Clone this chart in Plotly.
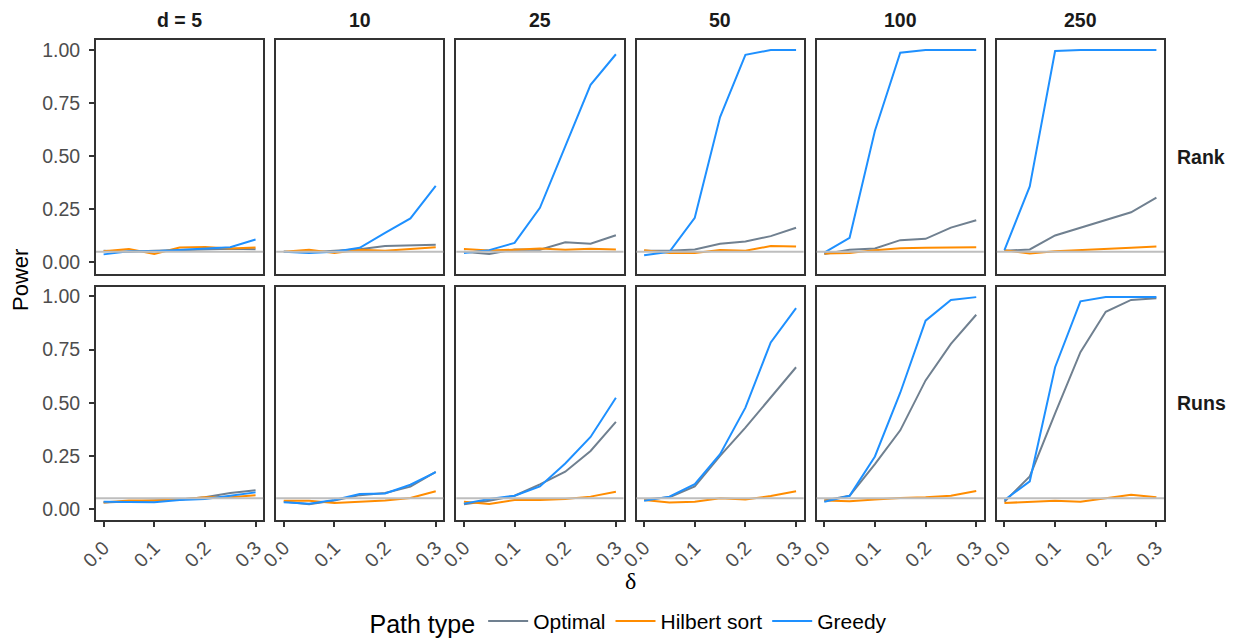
import plotly.graph_objects as go
from plotly.subplots import make_subplots

delta = [0.0, 0.05, 0.10, 0.15, 0.20, 0.25, 0.30]
col_labels = ["d = 5", "10", "25", "50", "100", "250"]
row_labels = ["Rank", "Runs"]
series_names = ["Optimal", "Hilbert sort", "Greedy"]
series_colors = ["#708090", "#FF8C00", "#1E90FF"]
x_ticks = [0.0, 0.1, 0.2, 0.3]
y_ticks = [0.0, 0.25, 0.5, 0.75, 1.0]
alpha_level = 0.05

rank_optimal = [
    [0.055, 0.050, 0.055, 0.058, 0.060, 0.065, 0.062],
    [0.050, 0.048, 0.055, 0.062, 0.077, 0.080, 0.083],
    [0.050, 0.040, 0.061, 0.060, 0.095, 0.088, 0.128],
    [0.055, 0.055, 0.061, 0.088, 0.099, 0.124, 0.163],
    [0.040, 0.060, 0.066, 0.105, 0.111, 0.164, 0.199],
    [0.055, 0.061, 0.127, 0.163, 0.200, 0.236, 0.305],
]
rank_hilbert = [
    [0.053, 0.063, 0.040, 0.070, 0.073, 0.066, 0.070],
    [0.050, 0.060, 0.045, 0.060, 0.055, 0.065, 0.072],
    [0.063, 0.056, 0.060, 0.066, 0.060, 0.064, 0.061],
    [0.058, 0.045, 0.045, 0.059, 0.055, 0.077, 0.075],
    [0.042, 0.045, 0.058, 0.067, 0.069, 0.072, 0.072],
    [0.058, 0.042, 0.053, 0.058, 0.061, 0.069, 0.075],
]
rank_greedy = [
    [0.038, 0.053, 0.053, 0.060, 0.065, 0.072, 0.108],
    [0.050, 0.045, 0.050, 0.069, 0.139, 0.207, 0.360],
    [0.045, 0.058, 0.092, 0.257, 0.546, 0.836, 0.980],
    [0.034, 0.050, 0.210, 0.684, 0.977, 1.000, 1.000],
    [0.046, 0.116, 0.620, 0.987, 1.000, 1.000, 1.000],
    [0.058, 0.358, 0.995, 1.000, 1.000, 1.000, 1.000],
]
runs_optimal = [
    [0.030, 0.035, 0.040, 0.045, 0.055, 0.075, 0.088],
    [0.035, 0.022, 0.040, 0.065, 0.075, 0.105, 0.175],
    [0.022, 0.039, 0.062, 0.116, 0.175, 0.273, 0.410],
    [0.045, 0.055, 0.106, 0.250, 0.383, 0.523, 0.667],
    [0.040, 0.062, 0.211, 0.370, 0.605, 0.777, 0.914],
    [0.034, 0.153, 0.450, 0.738, 0.928, 0.984, 0.992],
]
runs_hilbert = [
    [0.030, 0.040, 0.040, 0.045, 0.055, 0.055, 0.065],
    [0.039, 0.039, 0.028, 0.034, 0.040, 0.052, 0.083],
    [0.034, 0.023, 0.042, 0.042, 0.047, 0.058, 0.081],
    [0.042, 0.030, 0.034, 0.050, 0.045, 0.061, 0.083],
    [0.040, 0.036, 0.044, 0.052, 0.055, 0.062, 0.084],
    [0.028, 0.034, 0.039, 0.034, 0.052, 0.067, 0.055],
]
runs_greedy = [
    [0.034, 0.034, 0.031, 0.042, 0.047, 0.062, 0.078],
    [0.031, 0.025, 0.042, 0.070, 0.073, 0.114, 0.173],
    [0.025, 0.047, 0.062, 0.106, 0.214, 0.339, 0.523],
    [0.039, 0.058, 0.117, 0.258, 0.477, 0.784, 0.945],
    [0.034, 0.062, 0.247, 0.547, 0.886, 0.984, 0.997],
    [0.042, 0.130, 0.667, 0.977, 0.997, 0.997, 0.997],
]

rows_data = [
    [rank_optimal, rank_hilbert, rank_greedy],
    [runs_optimal, runs_hilbert, runs_greedy],
]

FONT = "Liberation Sans, Arial, Helvetica, sans-serif"
W, H = 1238, 640
ML, MR, MT, MB = 96, 74, 40, 120
PW, PH = W - ML - MR, H - MT - MB

fig = make_subplots(
    rows=2, cols=6,
    shared_xaxes=True, shared_yaxes=True,
    horizontal_spacing=13 / PW, vertical_spacing=13 / PH,
)

for r, series in enumerate(rows_data):
    for c in range(6):
        for s, name in enumerate(series_names):
            fig.add_trace(
                go.Scatter(
                    x=delta, y=series[s][c], mode="lines", name=name,
                    line=dict(color=series_colors[s], width=2),
                    showlegend=(r == 0 and c == 0), legendgroup=name,
                ),
                row=r + 1, col=c + 1,
            )

fig.add_hline(y=alpha_level, line=dict(color="#BEBEBE", width=2), row="all", col="all")

fig.update_xaxes(
    range=[-0.015, 0.315], tickvals=x_ticks, tickformat=".1f",
    showline=True, linecolor="#333333", linewidth=1.8, mirror=True,
    showgrid=False, zeroline=False, automargin=False,
    tickfont=dict(family=FONT, size=19.5, color="#4D4D4D"), tickangle=-45,
    ticklabelstandoff=2,
)
fig.update_xaxes(ticks="outside", ticklen=5, tickwidth=1.8, tickcolor="#333333", row=2)
fig.update_yaxes(
    range=[-0.052, 1.047], tickvals=y_ticks, tickformat=".2f",
    showline=True, linecolor="#333333", linewidth=1.8, mirror=True,
    showgrid=False, zeroline=False, automargin=False,
    tickfont=dict(family=FONT, size=19.5, color="#4D4D4D"),
    ticklabelstandoff=5,
)
fig.update_yaxes(ticks="outside", ticklen=5, tickwidth=1.8, tickcolor="#333333", col=1)

annotations = []
for c, lab in enumerate(col_labels):
    xa = fig.layout["xaxis" + ("" if c == 0 else str(c + 1))]
    xc = (xa.domain[0] + xa.domain[1]) / 2
    annotations.append(dict(
        text="<b>" + lab + "</b>", x=xc, y=1.0, xref="paper", yref="paper",
        xanchor="center", yanchor="bottom", yshift=7, showarrow=False,
        font=dict(family=FONT, size=19.5, color="#1A1A1A"),
    ))
for r, lab in enumerate(row_labels):
    ya = fig.layout["yaxis" + ("" if r == 0 else str(r * 6 + 1))]
    yc = (ya.domain[0] + ya.domain[1]) / 2
    annotations.append(dict(
        text="<b>" + lab + "</b>", x=1.0, y=yc, xref="paper", yref="paper",
        xanchor="left", yanchor="middle", xshift=11, showarrow=False,
        font=dict(family=FONT, size=19.5, color="#1A1A1A"),
    ))
annotations.append(dict(
    text="Power", x=0, y=0.5, xref="paper", yref="paper", textangle=-90,
    xanchor="center", yanchor="middle", xshift=-76, showarrow=False,
    font=dict(family=FONT, size=22, color="black"),
))
annotations.append(dict(
    text="δ", x=0.5, y=0, xref="paper", yref="paper",
    xanchor="center", yanchor="middle", yshift=-61, showarrow=False,
    font=dict(family="Liberation Serif, serif", size=24, color="black"),
))

fig.update_layout(
    template="none",
    width=W, height=H,
    margin=dict(l=ML, r=MR, t=MT, b=MB, autoexpand=False),
    paper_bgcolor="white", plot_bgcolor="white",
    annotations=annotations,
    showlegend=True,
    legend=dict(
        orientation="h", x=0.5, xanchor="center", y=-0.213, yanchor="middle",
        title=dict(text="Path type", font=dict(family=FONT, size=25, color="black")),
        font=dict(family=FONT, size=21, color="black"),
        itemwidth=40, bgcolor="rgba(0,0,0,0)",
    ),
)

fig.write_html(
    "out.html",
    config={"displayModeBar": False},
    post_script="document.body.style.margin='0px';",
)
